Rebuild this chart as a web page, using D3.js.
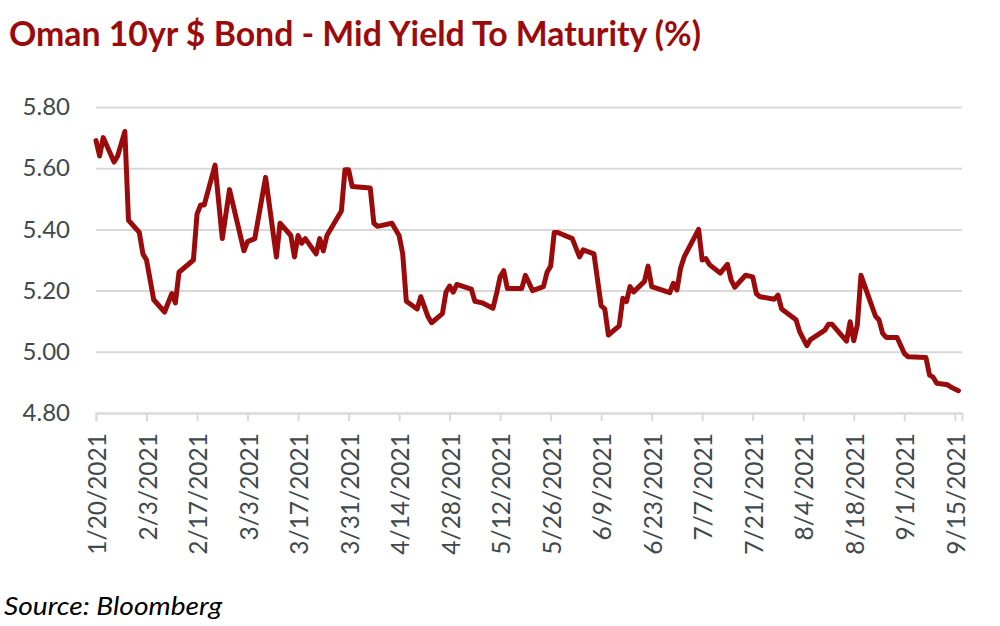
<!DOCTYPE html>
<html>
<head>
<meta charset="utf-8">
<script src="https://cdn.jsdelivr.net/npm/d3@7"></script>
<style>
  body { margin: 0; background: #fff; }
  svg { display: block; }
</style>
</head>
<body>
<svg width="1000" height="626"></svg>
<script>
// data
var dates = ["2021-01-20","2021-01-21","2021-01-22","2021-01-25","2021-01-26","2021-01-28","2021-01-29",
  "2021-02-01","2021-02-02","2021-02-03","2021-02-05","2021-02-08","2021-02-10","2021-02-11","2021-02-12",
  "2021-02-16","2021-02-17","2021-02-18","2021-02-19","2021-02-22","2021-02-24","2021-02-26",
  "2021-03-02","2021-03-03","2021-03-05","2021-03-08","2021-03-11","2021-03-12","2021-03-15","2021-03-16",
  "2021-03-17","2021-03-18","2021-03-19","2021-03-22","2021-03-23","2021-03-24","2021-03-25","2021-03-29",
  "2021-03-30","2021-03-31","2021-04-01","2021-04-06","2021-04-07","2021-04-08","2021-04-12","2021-04-14",
  "2021-04-15","2021-04-16","2021-04-19","2021-04-20","2021-04-22","2021-04-23","2021-04-26","2021-04-27",
  "2021-04-28","2021-04-29","2021-04-30","2021-05-04","2021-05-05","2021-05-07","2021-05-10","2021-05-11",
  "2021-05-12","2021-05-13","2021-05-14","2021-05-18","2021-05-19","2021-05-21","2021-05-24","2021-05-25",
  "2021-05-26","2021-05-27","2021-05-28","2021-06-01","2021-06-03","2021-06-04","2021-06-07","2021-06-09",
  "2021-06-10","2021-06-11","2021-06-14","2021-06-15","2021-06-16","2021-06-17","2021-06-18","2021-06-21",
  "2021-06-22","2021-06-23","2021-06-28","2021-06-29","2021-06-30","2021-07-01","2021-07-02","2021-07-06",
  "2021-07-07","2021-07-08","2021-07-09","2021-07-12","2021-07-14","2021-07-15","2021-07-16","2021-07-19",
  "2021-07-21","2021-07-22","2021-07-23","2021-07-27","2021-07-28","2021-07-29","2021-08-02","2021-08-03",
  "2021-08-05","2021-08-06","2021-08-10","2021-08-11","2021-08-12","2021-08-16","2021-08-17","2021-08-18",
  "2021-08-19","2021-08-20","2021-08-23","2021-08-24","2021-08-25","2021-08-26","2021-08-27","2021-08-30",
  "2021-09-01","2021-09-02","2021-09-07","2021-09-08","2021-09-09","2021-09-10","2021-09-13","2021-09-14",
  "2021-09-16"];
var yields = [5.69,5.64,5.70,5.62,5.64,5.72,5.43,
  5.39,5.32,5.30,5.17,5.13,5.19,5.16,5.26,
  5.30,5.45,5.48,5.48,5.61,5.37,5.53,
  5.33,5.36,5.37,5.57,5.31,5.42,5.38,5.31,
  5.38,5.355,5.37,5.32,5.37,5.33,5.38,5.46,
  5.595,5.595,5.54,5.535,5.42,5.41,5.42,5.38,
  5.32,5.165,5.14,5.18,5.115,5.095,5.125,5.195,
  5.215,5.195,5.22,5.205,5.165,5.16,5.142,5.19,
  5.245,5.265,5.207,5.207,5.25,5.20,5.213,5.26,
  5.28,5.39,5.39,5.37,5.31,5.333,5.32,5.15,
  5.14,5.055,5.085,5.175,5.164,5.213,5.196,5.23,
  5.28,5.213,5.193,5.224,5.202,5.273,5.31,5.40,
  5.30,5.305,5.285,5.257,5.286,5.235,5.211,5.25,
  5.245,5.19,5.18,5.172,5.185,5.14,5.105,5.066,
  5.02,5.04,5.071,5.09,5.09,5.035,5.098,5.036,
  5.088,5.25,5.15,5.117,5.104,5.06,5.047,5.047,
  4.995,4.984,4.981,4.924,4.917,4.897,4.892,4.884,
  4.873];
var tickDates = ["2021-01-20","2021-02-03","2021-02-17","2021-03-03","2021-03-17","2021-03-31",
  "2021-04-14","2021-04-28","2021-05-12","2021-05-26","2021-06-09","2021-06-23","2021-07-07",
  "2021-07-21","2021-08-04","2021-08-18","2021-09-01","2021-09-15"];
var yTicks = [4.80, 5.00, 5.20, 5.40, 5.60, 5.80];

var svg = d3.select("svg");
var parse = d3.timeParse("%Y-%m-%d");
var fmt = d3.timeFormat("%-m/%-d/%Y");
var red = "#9c0b0b";
var grey = "#3f4a4e";

var x = d3.scaleTime()
  .domain([parse("2021-01-20"), parse("2021-09-17")])
  .range([96, 962]);
var y = d3.scaleLinear()
  .domain([4.8, 5.8])
  .range([413, 107]);

// title
svg.append("text")
  .attr("x", 9).attr("y", 46)
  .attr("font-family", "Lato, 'Open Sans', sans-serif")
  .attr("font-weight", "bold")
  .attr("font-size", 34)
  .attr("fill", red)
  .attr("textLength", 692)
  .attr("lengthAdjust", "spacingAndGlyphs")
  .text("Oman 10yr $ Bond - Mid Yield To Maturity (%)");

// gridlines + y labels
var yAxis = svg.append("g")
  .attr("transform", "translate(96,0)")
  .call(d3.axisLeft(y).tickValues(yTicks).tickSize(-866).tickFormat(d3.format(".2f")).tickPadding(26));
yAxis.select(".domain").remove();
yAxis.selectAll(".tick line").attr("stroke", "#d9d9d9").attr("stroke-width", 2);
yAxis.selectAll(".tick text")
  .attr("font-family", "Lato, sans-serif")
  .attr("font-size", 24)
  .attr("fill", grey);

// x axis
var xAxis = svg.append("g")
  .attr("transform", "translate(0,413)")
  .call(d3.axisBottom(x).tickValues(tickDates.map(parse)).tickFormat(fmt).tickSize(8).tickPadding(6));
xAxis.select(".domain").attr("stroke", "#d9d9d9").attr("stroke-width", 2);
xAxis.selectAll(".tick line").attr("stroke", "#d9d9d9").attr("stroke-width", 2);
xAxis.selectAll(".tick text")
  .attr("font-family", "Lato, sans-serif")
  .attr("font-size", 24.5)
  .attr("fill", grey)
  .attr("transform", "rotate(-90)")
  .attr("text-anchor", "end")
  .attr("dy", "0.35em")
  .attr("x", -20)
  .attr("y", 1);

// the yield line
var pts = dates.map(function(d, i) { return [parse(d), yields[i]]; });
var line = d3.line()
  .x(function(d) { return x(d[0]); })
  .y(function(d) { return y(d[1]); });
svg.append("path")
  .datum(pts)
  .attr("d", line)
  .attr("fill", "none")
  .attr("stroke", red)
  .attr("stroke-width", 5)
  .attr("stroke-linejoin", "round")
  .attr("stroke-linecap", "round");

// source note
svg.append("text")
  .attr("x", 4).attr("y", 615)
  .attr("font-family", "Lato, sans-serif")
  .attr("font-style", "italic")
  .attr("font-size", 26)
  .attr("fill", "#000")
  .attr("textLength", 218)
  .attr("lengthAdjust", "spacingAndGlyphs")
  .text("Source: Bloomberg");
</script>
</body>
</html>
